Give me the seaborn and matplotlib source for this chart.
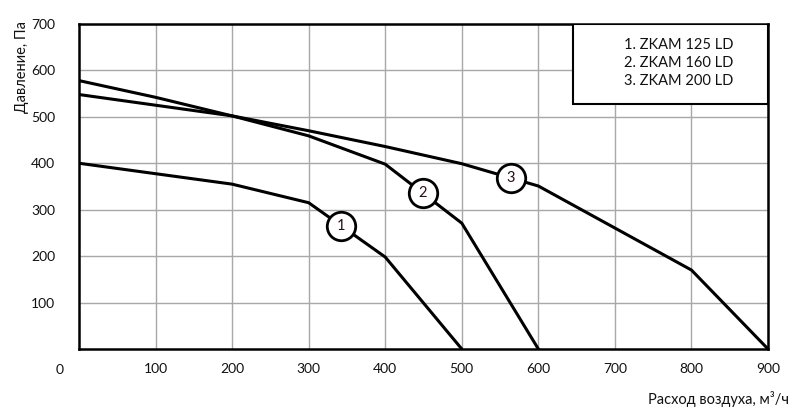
import numpy as np
import pandas as pd
import matplotlib
matplotlib.use("Agg")
import matplotlib.pyplot as plt
import seaborn as sns
from matplotlib.patches import Rectangle

# fan curves (airflow m3/h -> pressure Pa)
flow_1 = [0, 200, 300, 400, 500]
pres_1 = [400, 355, 315, 198, 0]

flow_2 = [0, 100, 200, 300, 400, 500, 600]
pres_2 = [578, 542, 502, 459, 398, 271, 0]

flow_3 = [0, 200, 300, 400, 500, 600, 800, 900]
pres_3 = [548, 502, 470, 436, 399, 351, 170, 0]

curve_ids = ["1", "2", "3"]
label_flow = [342, 449, 564]
legend_lines = ["1. ZKAM 125 LD", "2. ZKAM 160 LD", "3. ZKAM 200 LD"]

x_ticks = [100, 200, 300, 400, 500, 600, 700, 800, 900]
y_ticks = [100, 200, 300, 400, 500, 600, 700]

sns.set_theme(style="white")
plt.rcParams["font.family"] = ["Lato", "DejaVu Sans"]

fig = plt.figure(figsize=(8, 4.13), dpi=100)
ax = fig.add_axes([0.09875, 0.155, 0.86125, 0.787])

curves = [(flow_1, pres_1), (flow_2, pres_2), (flow_3, pres_3)]
for cid, (fx, py) in zip(curve_ids, curves):
    df = pd.DataFrame({"flow": fx, "pressure": py})
    sns.lineplot(data=df, x="flow", y="pressure", ax=ax, color="black",
                 linewidth=2.2, sort=False, zorder=3)

# numbered circle markers sitting on each curve
for cid, lx, (fx, py) in zip(curve_ids, label_flow, curves):
    ly = np.interp(lx, fx, py)
    ax.scatter([lx], [ly], s=420, facecolor="white", edgecolor="black",
               linewidth=2, zorder=4)
    ax.text(lx, ly, cid, ha="center", va="center", fontsize=10.5,
            color="#2a1010", zorder=5)

ax.set_xlim(0, 900)
ax.set_ylim(0, 700)
ax.set_xticks(x_ticks)
ax.set_yticks(y_ticks)
ax.grid(True, color="#a8a8a8", linewidth=1)
ax.set_axisbelow(True)
for s in ax.spines.values():
    s.set_visible(True)
    s.set_color("black")
    s.set_linewidth(1.8)

ax.tick_params(axis="both", length=0, labelsize=10, colors="#111111")
ax.tick_params(axis="x", pad=10)
ax.tick_params(axis="y", pad=17)
ax.set_xlabel("")
ax.set_ylabel("")

# axis titles: y title sits at the top of the left margin
fig.text(0.0275, 0.838, "Давление, Па", rotation=90, ha="center", va="center",
         fontsize=10.5, color="#111111")
fig.text(0.986, 0.035, "Расход воздуха, м³/ч", ha="right", va="center",
         fontsize=10.5, color="#111111")

# origin label sits left of the corner
ax.text(-0.028, -0.066, "0", transform=ax.transAxes, ha="center", va="center",
        fontsize=10, color="#111111")

# legend box in the upper right corner
box = Rectangle((0.7176, 0.754), 0.2824, 0.246, transform=ax.transAxes,
                facecolor="white", edgecolor="black", linewidth=1.5, zorder=6)
ax.add_patch(box)
for i, line in enumerate(legend_lines):
    ax.text(0.871, 0.935 - i * 0.055, line, transform=ax.transAxes,
            ha="center", va="center", fontsize=10.5, color="#111111", zorder=7)

fig.savefig("out.png", dpi=100)
